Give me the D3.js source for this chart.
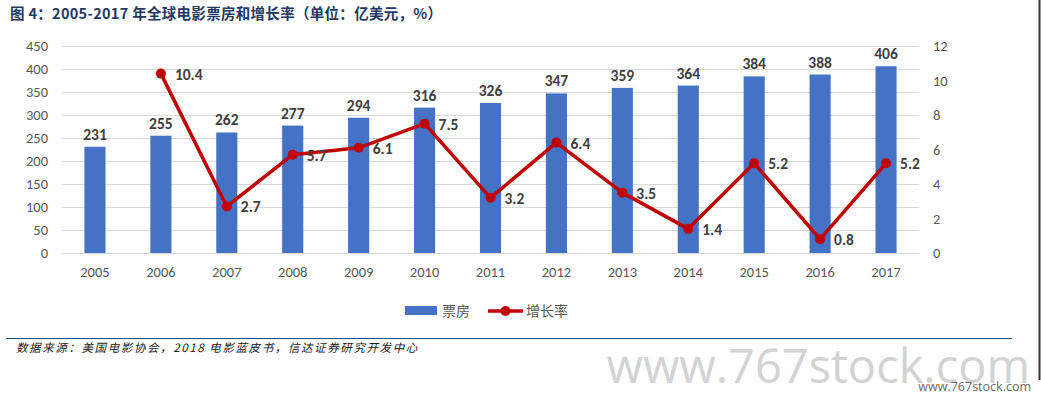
<!DOCTYPE html>
<html><head><meta charset="utf-8">
<script src="https://cdn.jsdelivr.net/npm/d3@7/dist/d3.min.js"></script>
<style>body{margin:0;background:#fff}svg{display:block}</style>
</head><body>
<svg id="c" width="1041" height="399"></svg>
<script>
const years = ["2005","2006","2007","2008","2009","2010","2011","2012","2013","2014","2015","2016","2017"];
const boxOffice = [231,255,262,277,294,316,326,347,359,364,384,388,406];
const growthYears = ["2006","2007","2008","2009","2010","2011","2012","2013","2014","2015","2016","2017"];
const growth = [10.4,2.7,5.7,6.1,7.5,3.2,6.4,3.5,1.4,5.2,0.8,5.2];
const leftTicks = [0,50,100,150,200,250,300,350,400,450];
const rightTicks = [0,2,4,6,8,10,12];

(function(){
const svg = d3.select("#c");
const pL = 62, pR = 919, pT = 46, pB = 253;
const font = "Calibri, Carlito, 'Liberation Sans', Arial, sans-serif";

const x = d3.scaleBand().domain(years).range([pL, pR]).paddingInner(0.68).paddingOuter(0.34);
const yL = d3.scaleLinear().domain([0,450]).range([pB, pT]);
const yR = d3.scaleLinear().domain([0,12]).range([pB, pT]);
const cx = d => x(d) + x.bandwidth()/2;

// title
svg.append("text").attr("x", 10).attr("y", 19)
  .attr("font-family", "'Noto Sans CJK SC', sans-serif").attr("font-weight", "bold")
  .attr("font-size", 14.5).attr("fill", "#1F3864").attr("letter-spacing", 0.3)
  .text("图 4：2005-2017 年全球电影票房和增长率（单位：亿美元，%）");

// gridlines
svg.append("g").selectAll("line").data(leftTicks).join("line")
  .attr("x1", pL).attr("x2", pR)
  .attr("y1", d => Math.round(yL(d))+0.5).attr("y2", d => Math.round(yL(d))+0.5)
  .attr("stroke", "#D9D9D9").attr("stroke-width", 1);

// left axis
const gl = svg.append("g").attr("transform", `translate(${pL-14},0)`)
  .call(d3.axisLeft(yL).tickValues(leftTicks).tickSize(0).tickPadding(0));
gl.select(".domain").remove();
gl.selectAll("text").attr("font-family", font).attr("font-size", 14.5).attr("fill", "#595959");

// right axis
const gr = svg.append("g").attr("transform", `translate(${pR+14},0)`)
  .call(d3.axisRight(yR).tickValues(rightTicks).tickSize(0).tickPadding(0));
gr.select(".domain").remove();
gr.selectAll("text").attr("font-family", font).attr("font-size", 14.5).attr("fill", "#595959");

// bottom axis
const gb = svg.append("g").attr("transform", `translate(0,${pB+10})`)
  .call(d3.axisBottom(x).tickSize(0).tickPadding(4));
gb.select(".domain").remove();
gb.selectAll("text").attr("font-family", font).attr("font-size", 14.5).attr("fill", "#595959");

// bars
svg.append("g").selectAll("rect").data(years).join("rect")
  .attr("x", d => x(d)).attr("width", x.bandwidth())
  .attr("y", (d,i) => yL(boxOffice[i])).attr("height", (d,i) => pB - yL(boxOffice[i]))
  .attr("fill", "#4472C4");

// bar labels
svg.append("g").selectAll("text").data(years).join("text")
  .attr("x", d => cx(d)).attr("y", (d,i) => yL(boxOffice[i]) - 7)
  .attr("text-anchor", "middle").attr("font-family", font).attr("font-weight", "bold")
  .attr("font-size", 15.5).attr("fill", "#404040")
  .text((d,i) => boxOffice[i]);

// line
const line = d3.line().x(d => cx(d[0])).y(d => yR(d[1]));
const pts = growthYears.map((d,i) => [d, growth[i]]);
svg.append("path").datum(pts).attr("d", line)
  .attr("fill", "none").attr("stroke", "#C00000").attr("stroke-width", 3.5).attr("stroke-linejoin", "round");
svg.append("g").selectAll("circle").data(pts).join("circle")
  .attr("cx", d => cx(d[0])).attr("cy", d => yR(d[1])).attr("r", 5)
  .attr("fill", "#C00000");
svg.append("g").selectAll("text").data(pts).join("text")
  .attr("x", d => cx(d[0]) + 14).attr("y", d => yR(d[1]) + 6)
  .attr("font-family", font).attr("font-weight", "bold")
  .attr("font-size", 15.5).attr("fill", "#404040")
  .text(d => d[1].toFixed(1));

// legend
const lg = svg.append("g");
lg.append("rect").attr("x", 405).attr("y", 306).attr("width", 32).attr("height", 9).attr("fill", "#4472C4");
lg.append("text").attr("x", 442).attr("y", 316).attr("font-family", "'Noto Sans CJK SC', sans-serif")
  .attr("font-size", 14).attr("fill", "#595959").text("票房");
lg.append("line").attr("x1", 488).attr("x2", 523).attr("y1", 311).attr("y2", 311)
  .attr("stroke", "#C00000").attr("stroke-width", 3.5);
lg.append("circle").attr("cx", 505.5).attr("cy", 311).attr("r", 5).attr("fill", "#C00000");
lg.append("text").attr("x", 526).attr("y", 316).attr("font-family", "'Noto Sans CJK SC', sans-serif")
  .attr("font-size", 14).attr("fill", "#595959").text("增长率");

// bottom rule & source
svg.append("line").attr("x1", 6).attr("x2", 1012).attr("y1", 338.5).attr("y2", 338.5)
  .attr("stroke", "#1F4E79").attr("stroke-width", 1.2);
svg.append("text").attr("x", 16).attr("y", 352)
  .attr("font-family", "'Noto Sans CJK SC', sans-serif").attr("font-style", "italic")
  .attr("font-size", 11.5).attr("letter-spacing", 1.6).attr("fill", "#1a1a1a")
  .text("数据来源：美国电影协会，2018 电影蓝皮书，信达证券研究开发中心");

// watermarks
svg.append("text").attr("x", 1030).attr("y", 383).attr("text-anchor", "end")
  .attr("font-family", "'Open Sans', 'DejaVu Sans', sans-serif").attr("font-size", 47)
  .attr("fill", "#D3D3D3").text("www.767stock.com");
svg.append("text").attr("x", 1031).attr("y", 391).attr("text-anchor", "end")
  .attr("font-family", "'Open Sans', 'DejaVu Sans', sans-serif").attr("font-size", 12.5)
  .attr("fill", "#6a6a6a").text("www.767stock.com");

// right border
svg.append("line").attr("x1", 1039.5).attr("x2", 1039.5).attr("y1", 0).attr("y2", 380)
  .attr("stroke", "#333").attr("stroke-width", 2);
})();
</script>
</body></html>
